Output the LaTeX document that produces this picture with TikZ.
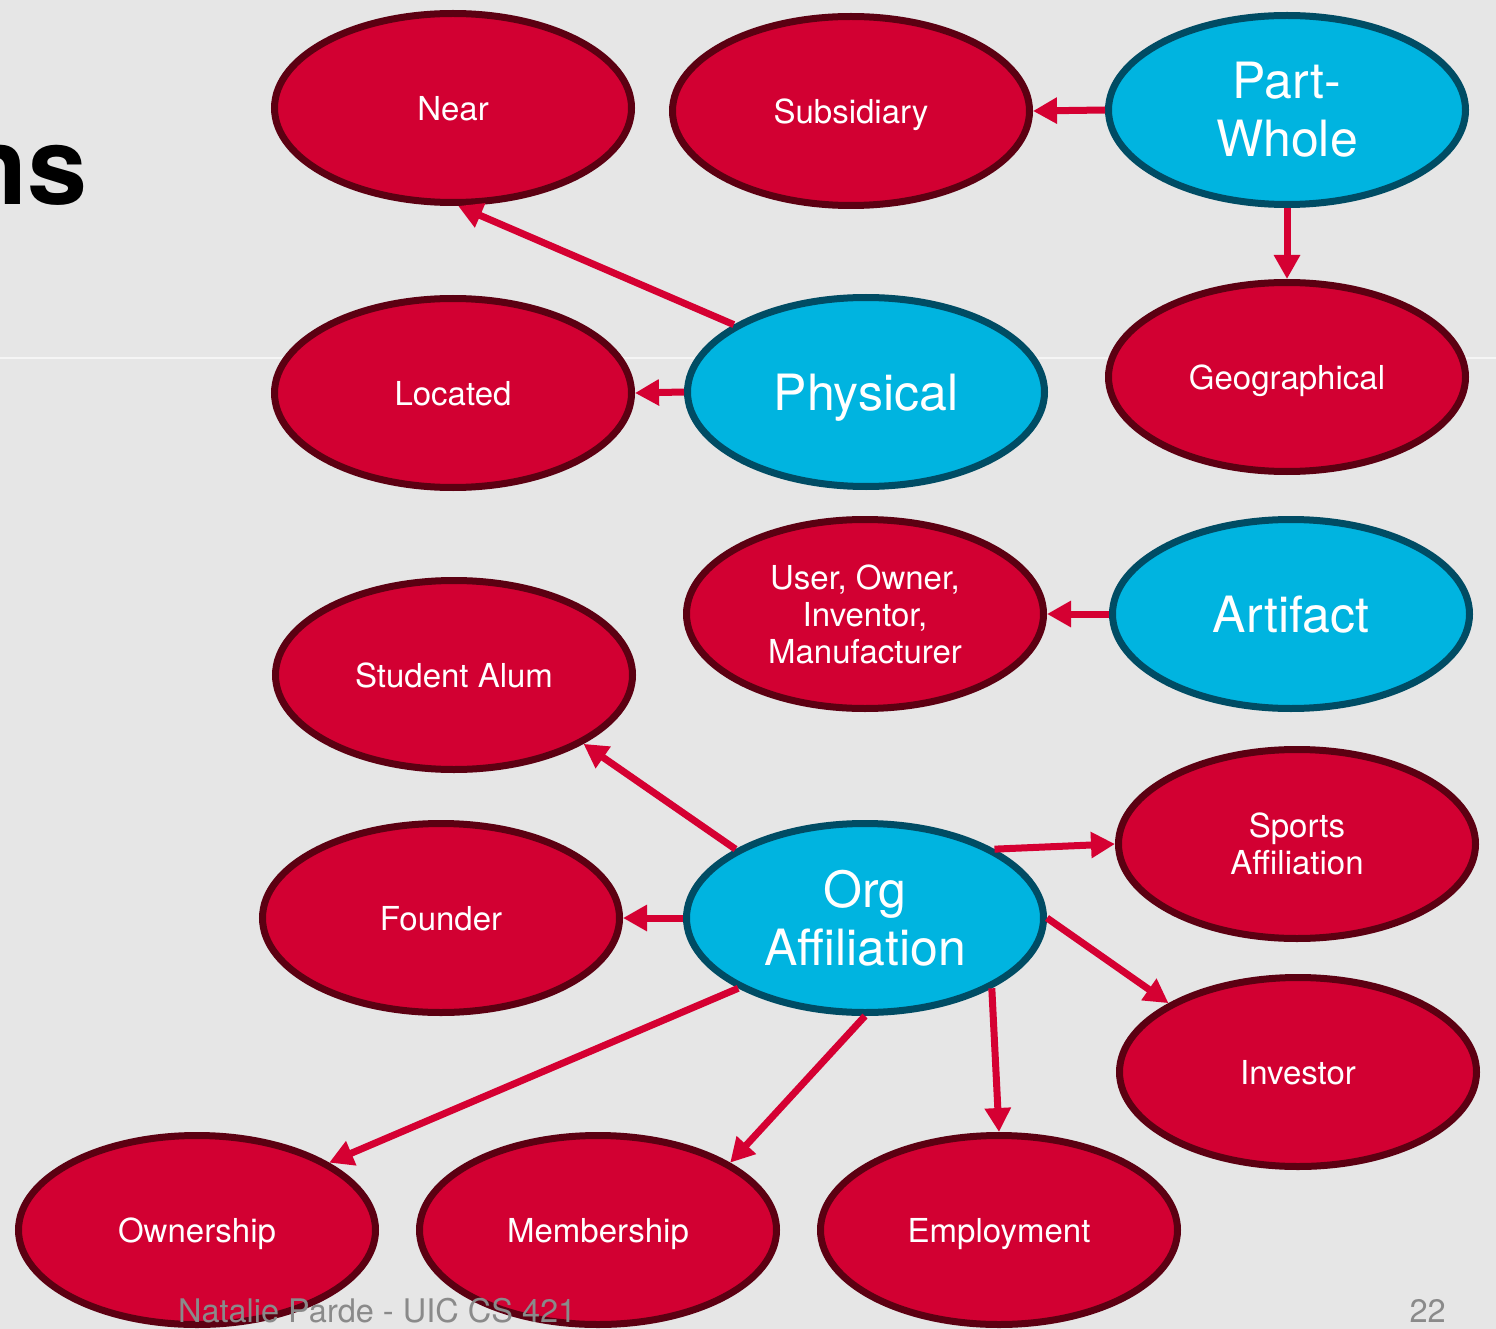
\documentclass[tikz,border=0pt]{standalone}
\usepackage{fontspec}
\setmainfont{TeX Gyre Heros}
\usetikzlibrary{shapes.geometric,arrows.meta}
\definecolor{bgc}{HTML}{E6E6E6}
\definecolor{redfill}{HTML}{D20032}
\definecolor{redline}{HTML}{5C0012}
\definecolor{bluefill}{HTML}{00B4E0}
\definecolor{blueline}{HTML}{004C64}
\definecolor{arrc}{HTML}{D50032}
\definecolor{footc}{HTML}{8A8A8A}
\tikzset{
  rnode/.style={ellipse, fill=redfill, draw=redline, line width=7pt,
    minimum width=357pt, minimum height=189pt, inner sep=0pt,
    text=white, align=center, font=\fontsize{33}{37}\selectfont},
  bnode/.style={ellipse, fill=bluefill, draw=blueline, line width=7pt,
    minimum width=357pt, minimum height=189pt, inner sep=0pt,
    text=white, align=center, font=\fontsize{50}{58}\selectfont},
  oneline/.style={text depth=0pt},
  arr/.style={draw=arrc, line width=7pt, -{Triangle[length=24pt,width=25pt]}},
  foot/.style={text=footc, font=\fontsize{32.5}{36}\selectfont, inner sep=0pt}
}
\begin{document}
\begin{tikzpicture}[x=1pt,y=-1pt]
\useasboundingbox (0,0) rectangle (1496,1329);
\fill[bgc] (0,0) rectangle (1496,1329);
\draw[line width=2pt, color=white!60!bgc] (0,358) -- (1496,358);
\node[anchor=base east, inner sep=0pt, font=\fontsize{108}{120}\selectfont\bfseries] (title) at (88,205) {ns};

\node[rnode, oneline] (near) at (453,108) {Near};
\node[rnode, oneline] (sub) at (851,111) {Subsidiary};
\node[bnode] (pw) at (1287,110) {Part-\\Whole};
\node[rnode, oneline] (loc) at (453,393) {Located};
\node[bnode, oneline] (phys) at (866,392) {Physical};
\node[rnode, oneline] (geo) at (1287,377) {Geographical};
\node[rnode] (user) at (865,614) {User, Owner,\\Inventor,\\Manufacturer};
\node[bnode, oneline] (art) at (1291,614) {Artifact};
\node[rnode, oneline] (stu) at (454,675) {Student Alum};
\node[rnode, oneline] (found) at (441,918) {Founder};
\node[bnode] (org) at (865,918) {Org\\Affiliation};
\node[rnode] (sport) at (1297,844) {Sports\\Affiliation};
\node[rnode, oneline] (inv) at (1298,1072) {Investor};
\node[rnode, oneline] (own) at (197,1230) {Ownership};
\node[rnode, oneline] (mem) at (598,1230) {Membership};
\node[rnode, oneline] (emp) at (999,1230) {Employment};

\draw[arr] (pw.west) -- (sub.east);
\draw[arr] (pw.south) -- (geo.north);
\draw[arr] (phys.153) -- (near.-87);
\draw[arr] (phys.west) -- (loc.east);
\draw[arr] (art.west) -- (user.east);
\draw[arr] (org.152) -- (stu.-28.5);
\draw[arr] (org.28) -- (sport.west);
\draw[arr] (org.west) -- (found.east);
\draw[arr] (org.east) -- (inv.152);
\draw[arr] (org.209) -- (own.27);
\draw[arr] (org.south) -- (mem.27);
\draw[arr] (org.-29) -- (emp.north);

\node[foot, anchor=base west] (author) at (178,1322) {Natalie Parde - UIC CS 421};
\node[foot, anchor=base east] (page) at (1446,1322) {22};
\end{tikzpicture}
\end{document}
